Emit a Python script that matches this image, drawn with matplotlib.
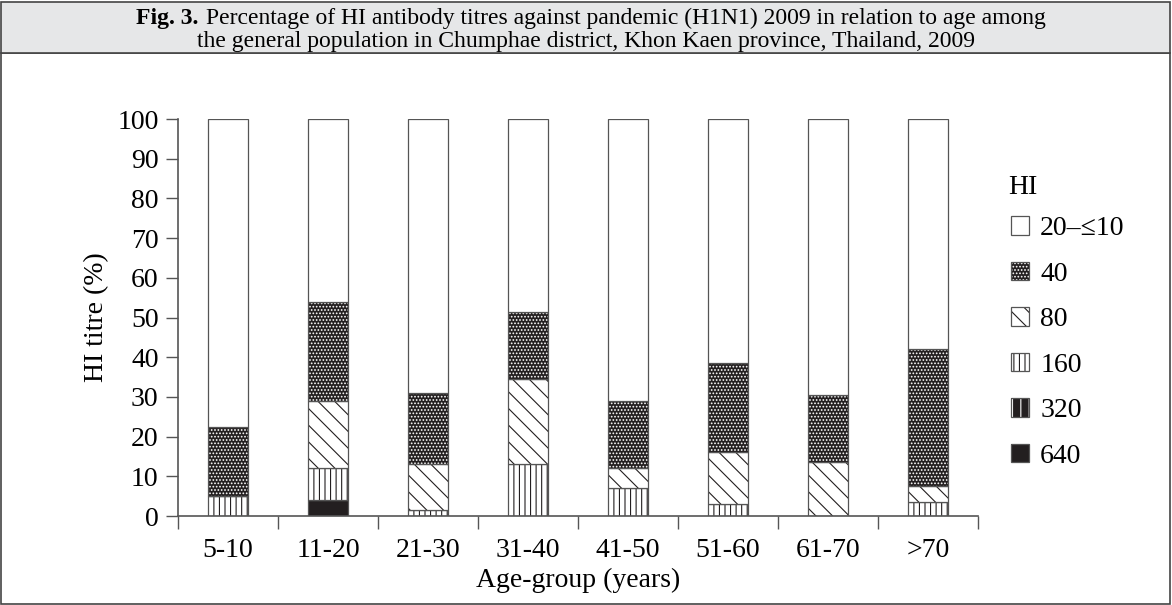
import matplotlib.pyplot as plt
from matplotlib.patches import Rectangle, Patch
from matplotlib.legend_handler import HandlerTuple

plt.rcParams['font.family'] = ['Liberation Serif', 'DejaVu Serif']
plt.rcParams['hatch.linewidth'] = 0.8

# data (percent of each age group)
groups = ['5-10', '11-20', '21-30', '31-40', '41-50', '51-60', '61-70', '>70']
t640 = [0, 4, 0, 0, 0, 0, 0, 0]
t320 = [0, 0, 0, 0, 0, 0, 0, 0]
t160 = [5, 8, 1.5, 13, 7, 3, 0, 3.5]
t80 = [0, 17, 11.5, 21.5, 5, 13, 13.5, 4]
t40 = [17.5, 25, 18, 17, 17, 22.5, 17, 34.5]
t20 = [77.5, 46, 69, 48.5, 71, 61.5, 69.5, 58]
labels = ['20\u2013\u226410', '40', '80', '160', '320', '640']

W, H = 1172, 605
fig = plt.figure(figsize=(W / 100, H / 100), dpi=100)

# title box + frame
fig.patches.append(Rectangle((1 / W, 1 / H), (W - 3) / W, (H - 54) / H, transform=fig.transFigure,
                             fill=False, edgecolor='#444444', lw=1.2, zorder=-1))
fig.patches.append(Rectangle((1 / W, (H - 53) / H), (W - 3) / W, 51 / H, transform=fig.transFigure,
                             facecolor='#e6e7e8', edgecolor='#444444', lw=1.2, zorder=-1))
tfs = 17
fig.text(136 / W, 1 - 24 / H, 'Fig. 3.', fontsize=tfs, fontweight='bold', va='baseline', ha='left')
fig.text(1046 / W, 1 - 24 / H,
         'Percentage of HI antibody titres against pandemic (H1N1) 2009 in relation to age among',
         fontsize=tfs, va='baseline', ha='right')
fig.text(0.5, 1 - 47.5 / H,
         'the general population in Chumphae district, Khon Kaen province, Thailand, 2009',
         fontsize=tfs, va='baseline', ha='center')

ax = fig.add_axes([178 / W, 89 / H, 800 / W, 397 / H])
x = range(len(groups))
bw = 0.4
dark = '#231f20'
edge = '#555555'

styles = [
    (t640, dict(color=dark, edgecolor=dark)),
    (t320, dict(color=dark, edgecolor='white', hatch='||')),
    (t160, dict(color='white', edgecolor=dark, hatch='|||')),
    (t80, dict(color='white', edgecolor=dark, hatch='\\\\')),
    (t40, dict(color=dark, edgecolor='white', hatch='.....')),
    (t20, dict(color='white', edgecolor=dark)),
]
bottom = [0] * len(groups)
for vals, st in styles:
    ax.bar(x, vals, bw, bottom=bottom, color=st['color'], edgecolor=st['edgecolor'],
           hatch=st.get('hatch'), linewidth=0)
    ax.bar(x, vals, bw, bottom=bottom, fill=False, edgecolor=edge, linewidth=0.9)
    bottom = [b + v for b, v in zip(bottom, vals)]

ax.set_xlim(-0.5, 7.5)
ax.set_ylim(0, 100)
ax.set_yticks(range(0, 101, 10))
ax.set_xticks(list(x))
ax.set_xticklabels(groups)
ax.set_xticks([i - 0.5 for i in range(9)], minor=True)
ax.tick_params(axis='x', which='major', length=0, labelsize=20, pad=16)
ax.tick_params(axis='x', which='minor', length=9, width=1, color=edge, direction='out')
ax.tick_params(axis='y', length=9, width=1, color=edge, labelsize=20, pad=5)
for s in ['top', 'right']:
    ax.spines[s].set_visible(False)
for s in ['left', 'bottom']:
    ax.spines[s].set_color(edge)
    ax.spines[s].set_linewidth(1.2)
ax.set_ylabel('HI titre (%)', fontsize=20, labelpad=6)
ax.set_xlabel('Age-group (years)', fontsize=20, labelpad=3)

# legend
fig.text(1008 / W, 1 - 187 / H, 'HI', fontsize=20, va='center', ha='left')
handles = []
for vals, st in reversed(styles):
    p = Patch(facecolor=st['color'], edgecolor=st['edgecolor'], hatch=st.get('hatch'), linewidth=0)
    o = Patch(fill=False, edgecolor=edge, linewidth=0.9)
    handles.append((p, o))
leg = ax.legend(handles, labels, handler_map={tuple: HandlerTuple(ndivide=1)},
                loc='upper left', bbox_to_anchor=(986 / W, 1 - 191 / H),
                bbox_transform=fig.transFigure, frameon=False, fontsize=20,
                handlelength=0.65, handleheight=0.65, handletextpad=0.4, labelspacing=0.74)

fig.savefig('out.png', dpi=100)
